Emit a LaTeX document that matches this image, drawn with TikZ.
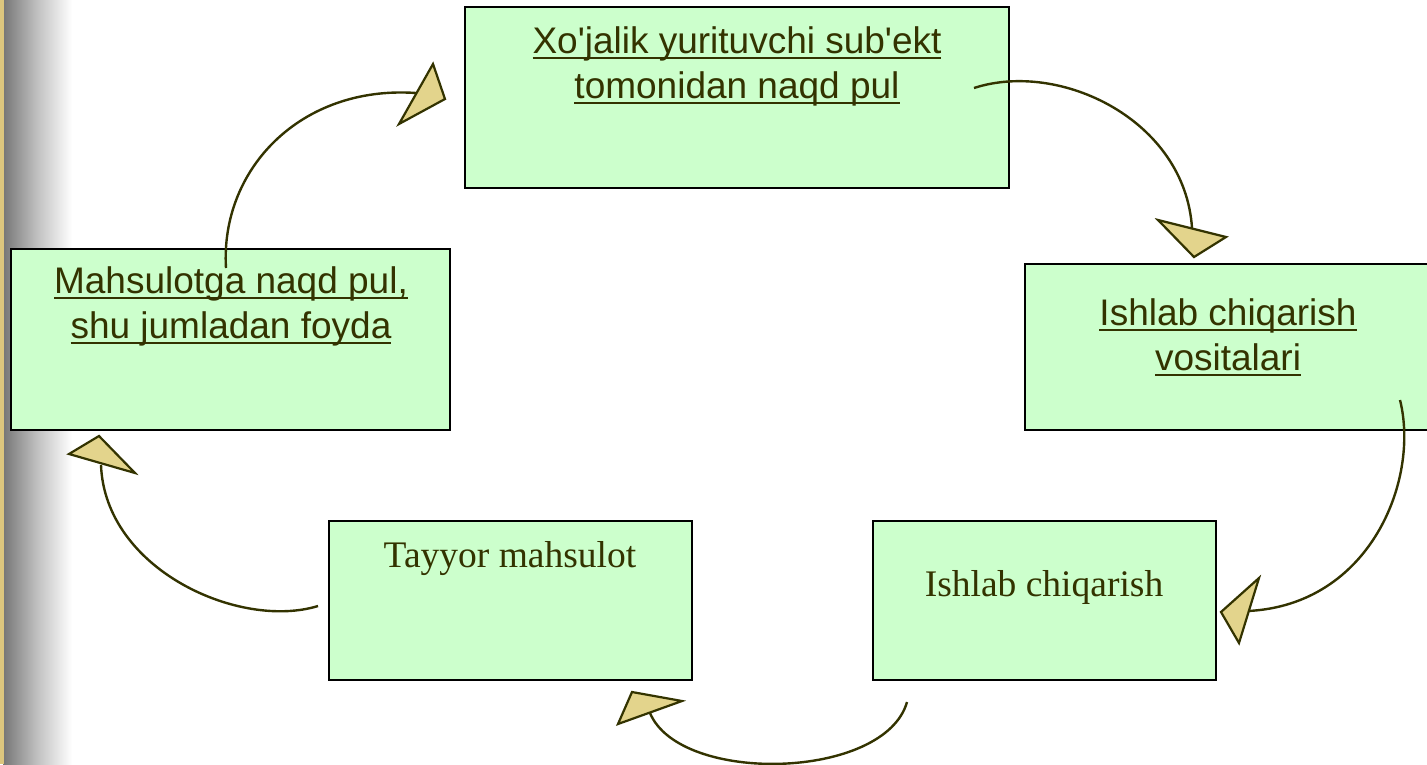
\documentclass[tikz,border=0pt]{standalone}
\usepackage{fontspec}
\newfontfamily\arialf{Liberation Sans}
\newfontfamily\timesf{Liberation Serif}
\definecolor{boxfill}{HTML}{CCFFCC}
\definecolor{txt}{HTML}{333300}
\definecolor{headfill}{HTML}{E3D48C}
\definecolor{gold}{HTML}{DCC67E}
\definecolor{barl}{HTML}{767676}
\newcommand\ulx[1]{\setbox0=\hbox{#1}\rlap{\rule[-6pt]{\wd0}{2.4pt}}\box0}
\begin{document}
\begin{tikzpicture}[x=1pt,y=-1pt,
 box/.style={draw=black, line width=1.8pt, fill=boxfill, rectangle, inner sep=0pt},
 ulbl/.style={font=\arialf\fontsize{37}{45}\selectfont, text=txt, align=center, anchor=base, inner sep=0pt},
 slbl/.style={font=\timesf\fontsize{37.5}{44}\selectfont, text=txt, anchor=base, inner sep=0pt},
 flow/.style={draw=txt, line width=2.4pt},
 headtri/.style={draw=txt, fill=headfill, line width=2.2pt, line join=miter}]

\useasboundingbox (0,0) rectangle (1427,764);
\clip (0,0) rectangle (1427,764);
\fill[white] (0,0) rectangle (1427,764);
\shade[left color=barl, right color=white, middle color=barl!45!white] (3,0) rectangle (72,764);
\fill[gold] (0,0) rectangle (3.5,764);

% boxes
\node[box, minimum width=544pt, minimum height=181pt] (top) at (737,97.5) {};
\node[box, minimum width=415pt, minimum height=166pt] (right) at (1232.5,347) {};
\node[box, minimum width=439pt, minimum height=181pt] (left) at (230.5,339.5) {};
\node[box, minimum width=363pt, minimum height=159pt] (bl) at (510.5,600.5) {};
\node[box, minimum width=343pt, minimum height=159pt] (br) at (1044.5,600.5) {};

% texts (anchor = baseline of the last line)
\node[ulbl] (topt) at (737,98) {\ulx{Xo'jalik yurituvchi sub'ekt}\\\ulx{tomonidan naqd pul}};
\node[ulbl] (rightt) at (1228,370) {\ulx{Ishlab chiqarish}\\\ulx{vositalari}};
\node[ulbl] (leftt) at (231,338) {\ulx{Mahsulotga naqd pul,}\\\ulx{shu jumladan foyda}};
\node[slbl] (blt) at (510,567) {Tayyor mahsulot};
\node[slbl] (brt) at (1044,596) {Ishlab chiqarish};

% connector end points
\coordinate (s1) at (226,268);  \coordinate (e1) at (416,93);
\coordinate (s2) at (974,88);   \coordinate (e2) at (1192,228);
\coordinate (s3) at (1400,400); \coordinate (e3) at (1248,611);
\coordinate (s4) at (907,702);  \coordinate (e4) at (650,713);
\coordinate (s5) at (318,606);  \coordinate (e5) at (101,465);

\draw[flow] (s1) .. controls (220,170) and (300,85) .. (e1);
\draw[flow] (s2) .. controls (1060,60) and (1185,120) .. (e2);
\draw[flow] (s3) .. controls (1420,480) and (1370,605) .. (e3);
\draw[flow] (s4) .. controls (885,780) and (680,785) .. (e4);
\draw[flow] (s5) .. controls (240,630) and (105,570) .. (e5);

% arrow heads
\draw[headtri] (433,64) -- (445,99) -- (399,124) -- cycle;
\draw[headtri] (1158,220) -- (1226,237) -- (1194,257) -- cycle;
\draw[headtri] (1259,578) -- (1221,612) -- (1239,643) -- cycle;
\draw[headtri] (632,692) -- (682,701) -- (618,724) -- cycle;
\draw[headtri] (99,436) -- (69,454) -- (135,473) -- cycle;
\end{tikzpicture}
\end{document}
